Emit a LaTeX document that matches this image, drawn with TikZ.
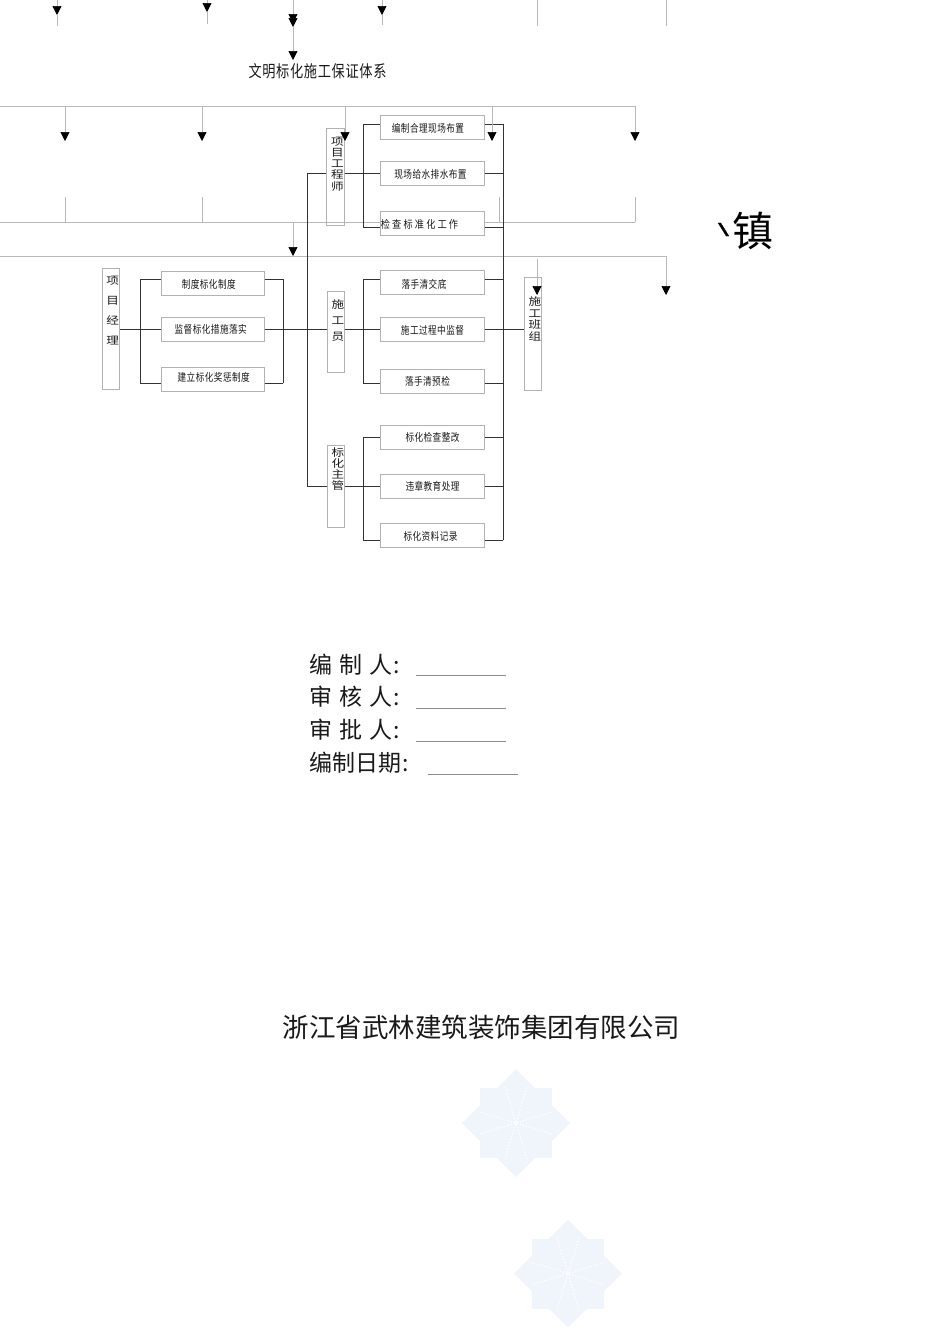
\documentclass[tikz,border=0pt]{standalone}
\usepackage{fontspec}
\usetikzlibrary{arrows.meta}
\newfontfamily\cjk{Noto Sans CJK SC}
\newfontfamily\cjknarrow[FakeStretch=0.8,LetterSpace=4]{Noto Sans CJK SC}
\newfontfamily\cjkspaced[FakeStretch=0.85,LetterSpace=20]{Noto Sans CJK SC}
\newfontfamily\cjkwide[FakeStretch=1.2]{Noto Sans CJK SC}
\newfontfamily\slashfont[FakeStretch=2,FakeBold=2]{DejaVu Sans}
\definecolor{emblemblue}{HTML}{F0F5FC}
\newcommand{\txtshift}[3]{\hspace*{#1}\raisebox{#2}{#3}}

\tikzset{
  wire/.style={draw=black!80,line width=1pt},
  guide/.style={draw=black!28,line width=.7pt},
  guidearrow/.style={guide,-{Triangle[length=9pt,width=9pt,color=black]}},
  stepbox/.style={draw=black!30,fill=white,line width=.7pt,minimum width=103.5pt,minimum height=24pt,inner sep=0pt,
    text height=9pt,text depth=1pt,text=black!90,font=\cjknarrow\fontsize{10.8}{11}\selectfont},
  tallbox/.style={draw=black!30,line width=.7pt,minimum width=17.5pt,inner sep=0pt},
  talltext/.style={anchor=north,xshift=2pt,inner sep=0pt,align=center,text=black!90},
  signtext/.style={anchor=west,inner sep=0pt,text=black!90,font=\cjk\fontsize{23}{24}\selectfont},
  emblem/.pic={
    \fill[emblemblue] (-36,-35) rectangle (36,35);
    \fill[emblemblue] (-54,0) -- (0,-54) -- (54,0) -- (0,54) -- cycle;
    \foreach \a in {0,90,180,270}
      \draw[white,line width=1.2pt,dotted,rotate=\a] (11,36) -- (0,0) -- (-11,36);
  }
}

\begin{document}
\begin{tikzpicture}[x=1pt,y=-1pt]
  \useasboundingbox (0,0) rectangle (950,1344);

  % free ends of the grey guide lines
  \coordinate (a0) at (0,106);   \coordinate (a1) at (635,106);
  \coordinate (e0) at (0,222);   \coordinate (e1) at (635,222);
  \coordinate (f0) at (0,256);   \coordinate (f1) at (666,256);

  \draw[guide] (e0) -- (e1);
  \draw[guide] (f0) -- (f1);

  \fill pic at (516,1123) {emblem};
  \fill pic at (568,1273.5) {emblem};

  % boxes of the chart
  \node[tallbox,minimum height=121pt] (mgr) at (110.75,329) {};
  \node[tallbox,minimum height=97pt]  (eng) at (335.5,176.5) {};
  \node[tallbox,minimum height=81pt]  (wkr) at (336,331.5) {};
  \node[tallbox,minimum height=82pt]  (sup) at (336,486) {};
  \node[tallbox,minimum height=113pt] (crew) at (533,333.5) {};

  \node[talltext,font=\cjkwide\fontsize{10.5}{20}\selectfont] at (mgr.north) [yshift=-8pt] {项\\目\\经\\理};
  \node[talltext,font=\cjkwide\fontsize{10.5}{11.2}\selectfont] at (eng.north) [yshift=-9pt] {项\\目\\工\\程\\师};
  \node[talltext,font=\cjkwide\fontsize{10.5}{16}\selectfont] at (wkr.north) [yshift=-9pt] {施\\工\\员};
  \node[talltext,font=\cjkwide\fontsize{10.5}{11}\selectfont] at (sup.north) [yshift=-3pt] {标\\化\\主\\管};
  \node[talltext,font=\cjkwide\fontsize{10.5}{11.5}\selectfont] at (crew.north) [yshift=-20pt] {施\\工\\班\\组};

  \node[stepbox] (rule)  at (212.75,283)   {\txtshift{-8pt}{-1pt}{制度标化制度}};
  \node[stepbox] (watch) at (212.75,329)   {\txtshift{-4pt}{0pt}{监督标化措施落实}};
  \node[stepbox] (prize) at (212.75,379)   {\txtshift{2pt}{2pt}{建立标化奖惩制度}};

  \node[stepbox] (plan)  at (432.5,127)    {\txtshift{-9pt}{-1pt}{编制合理现场布置}};
  \node[stepbox] (water) at (432.5,173)    {\txtshift{-4pt}{-1pt}{现场给水排水布置}};
  \node[stepbox] (check) at (432.5,223)    {\txtshift{-26pt}{-1pt}{\cjkspaced 检查标准化工作}};
  \node[stepbox] (brief) at (432.5,282)    {\txtshift{-17pt}{-2pt}{落手清交底}};
  \node[stepbox] (proc)  at (432.5,329)    {\txtshift{0pt}{-1pt}{施工过程中监督}};
  \node[stepbox] (pre)   at (432.5,381)    {\txtshift{-10pt}{0pt}{落手清预检}};
  \node[stepbox] (fix)   at (432.5,437)    {标化检查整改};
  \node[stepbox] (edu)   at (432.5,486)    {违章教育处理};
  \node[stepbox] (rec)   at (432.5,535)    {\txtshift{-4pt}{-1pt}{标化资料记录}};

  % bus points
  \coordinate (lbus1) at (140,279);  \coordinate (lbus2) at (140,329);  \coordinate (lbus3) at (140,383);
  \coordinate (rbus1) at (283,279);  \coordinate (rbus2) at (283,329);  \coordinate (rbus3) at (283,383);
  \coordinate (trunk1) at (307,173); \coordinate (trunk2) at (307,329); \coordinate (trunk3) at (307,486);
  \coordinate (ebus1) at (363,124);  \coordinate (ebus2) at (363,173);  \coordinate (ebus3) at (363,227);
  \coordinate (wbus1) at (363,279);  \coordinate (wbus2) at (363,329);  \coordinate (wbus3) at (363,383);
  \coordinate (sbus1) at (363,437);  \coordinate (sbus2) at (363,486);  \coordinate (sbus3) at (363,540);
  \coordinate (out1) at (503,124);   \coordinate (out2) at (503,329);   \coordinate (out3) at (503,540);

  \draw[wire] (mgr.east) -- (watch.west);
  \draw[wire] (lbus1) -- (lbus3);
  \draw[wire] (lbus1) -- (rule.west |- lbus1);
  \draw[wire] (lbus3) -- (prize.west |- lbus3);
  \draw[wire] (rbus1) -- (rbus3);
  \draw[wire] (rbus1) -- (rule.east |- rbus1);
  \draw[wire] (rbus3) -- (prize.east |- rbus3);
  \draw[wire] (watch.east) -- (wkr.west |- watch.east);
  \draw[wire] (trunk1) -- (trunk3);
  \draw[wire] (trunk1) -- (eng.west |- trunk1);
  \draw[wire] (trunk3) -- (sup.west |- trunk3);

  \draw[wire] (eng.east |- ebus2) -- (water.west);
  \draw[wire] (ebus1) -- (ebus3);
  \draw[wire] (ebus1) -- (plan.west |- ebus1);
  \draw[wire] (ebus3) -- (check.west |- ebus3);
  \draw[wire] (wkr.east |- wbus2) -- (proc.west);
  \draw[wire] (wbus1) -- (wbus3);
  \draw[wire] (wbus1) -- (brief.west |- wbus1);
  \draw[wire] (wbus3) -- (pre.west |- wbus3);
  \draw[wire] (sup.east |- sbus2) -- (edu.west);
  \draw[wire] (sbus1) -- (sbus3);
  \draw[wire] (sbus1) -- (fix.west |- sbus1);
  \draw[wire] (sbus3) -- (rec.west |- sbus3);

  \draw[wire] (out1) -- (out3);
  \draw[wire] (plan.east |- out1) -- (out1);
  \draw[wire] (water.east) -- (water.east -| out1);
  \draw[wire] (check.east |- ebus3) -- (ebus3 -| out1);
  \draw[wire] (brief.east |- wbus1) -- (wbus1 -| out1);
  \draw[wire] (proc.east) -- (crew.west |- proc.east);
  \draw[wire] (pre.east |- wbus3) -- (wbus3 -| out1);
  \draw[wire] (fix.east) -- (fix.east -| out1);
  \draw[wire] (edu.east) -- (edu.east -| out1);
  \draw[wire] (rec.east |- sbus3) -- (out3);

  % arrows cut off at the top of the page
  \coordinate (t1) at (57,0);   \coordinate (t1a) at (57,15);  \coordinate (t1b) at (57,26);
  \coordinate (t2) at (207,0);  \coordinate (t2a) at (207,12); \coordinate (t2b) at (207,24);
  \coordinate (t3) at (293,0);  \coordinate (t3a) at (293,23); \coordinate (t3b) at (293,27);
  \coordinate (t3c) at (293,60);
  \coordinate (t4) at (382,0);  \coordinate (t4a) at (382,15); \coordinate (t4b) at (382,25);
  \coordinate (t5) at (537,0);  \coordinate (t5b) at (537,26);
  \coordinate (t6) at (666,0);  \coordinate (t6b) at (666,26);

  \draw[guidearrow] (t1) -- (t1a);
  \draw[guide] (t1a) -- (t1b);
  \draw[guidearrow] (t2) -- (t2a);
  \draw[guide] (t2a) -- (t2b);
  \draw[guidearrow] (t3) -- (t3a);
  \draw[guidearrow] (t3a) -- (t3b);
  \draw[guidearrow] (t3b) -- (t3c);
  \draw[guidearrow] (t4) -- (t4a);
  \draw[guide] (t4a) -- (t4b);
  \draw[guide] (t5) -- (t5b);
  \draw[guide] (t6) -- (t6b);

  % drops from the first grey line
  \coordinate (d1a) at (65,106);  \coordinate (d1b) at (65,141);
  \coordinate (d2a) at (202,106); \coordinate (d2b) at (202,141);
  \coordinate (d3a) at (345,106); \coordinate (d3b) at (345,141);
  \coordinate (d4a) at (492,106); \coordinate (d4b) at (492,141);
  \coordinate (d5b) at (635,141);

  \draw[guide] (a0) -- (a1);
  \draw[guidearrow] (d1a) -- (d1b);
  \draw[guidearrow] (d2a) -- (d2b);
  \draw[guidearrow] (d3a) -- (d3b);
  \draw[guidearrow] (d4a) -- (d4b);
  \draw[guidearrow] (a1) -- (d5b);

  % stubs above the second grey line
  \coordinate (s1a) at (65,197);  \coordinate (s1b) at (65,222);
  \coordinate (s2a) at (202,197); \coordinate (s2b) at (202,222);
  \coordinate (s3a) at (499,197); \coordinate (s3b) at (499,222);
  \coordinate (s4a) at (635,197);
  \draw[guide] (s1a) -- (s1b);
  \draw[guide] (s2a) -- (s2b);
  \draw[guide] (s3a) -- (s3b);
  \draw[guide] (s4a) -- (e1);

  \coordinate (m1a) at (293,222); \coordinate (m1b) at (293,256);
  \coordinate (g1a) at (537,259); \coordinate (g1b) at (537,295);
  \coordinate (g2b) at (666,295);
  \draw[guidearrow] (m1a) -- (m1b);
  \draw[guidearrow] (g1a) -- (g1b);
  \draw[guidearrow] (f1) -- (g2b);

  % texts of the sheet
  \node[inner sep=0pt,text=black!90,font=\cjknarrow\fontsize{16.5}{20}\selectfont] (title) at (317.5,71) {文明标化施工保证体系};

  \node[inner sep=0pt,font=\slashfont\fontsize{16}{18}\selectfont] (slash) at (723.5,229.5) {\textbackslash};
  \node[inner sep=0pt,font=\cjk\fontsize{41}{44}\selectfont] (town) at (752.5,231) {镇};

  \node[signtext] (by)    at (309,665) {编\hspace{7pt}制\hspace{7pt}人\hspace{1pt}:};
  \node[signtext] (audit) at (309,697) {审\hspace{7pt}核\hspace{7pt}人\hspace{1pt}:};
  \node[signtext] (appr)  at (309,730) {审\hspace{7pt}批\hspace{7pt}人\hspace{1pt}:};
  \node[signtext] (date)  at (309,763) {编制日期\hspace{1pt}:};

  \coordinate (u1a) at (416,675); \coordinate (u1b) at (506,675);
  \coordinate (u2a) at (416,708); \coordinate (u2b) at (506,708);
  \coordinate (u3a) at (416,741); \coordinate (u3b) at (506,741);
  \coordinate (u4a) at (428,774); \coordinate (u4b) at (518,774);
  \draw[guide,draw=black!45] (u1a) -- (u1b);
  \draw[guide,draw=black!45] (u2a) -- (u2b);
  \draw[guide,draw=black!45] (u3a) -- (u3b);
  \draw[guide,draw=black!45] (u4a) -- (u4b);

  \node[inner sep=0pt,text=black!90,font=\cjk\fontsize{26.5}{30}\selectfont] (firm) at (481.5,1027) {浙江省武林建筑装饰集团有限公司};

\end{tikzpicture}
\end{document}
